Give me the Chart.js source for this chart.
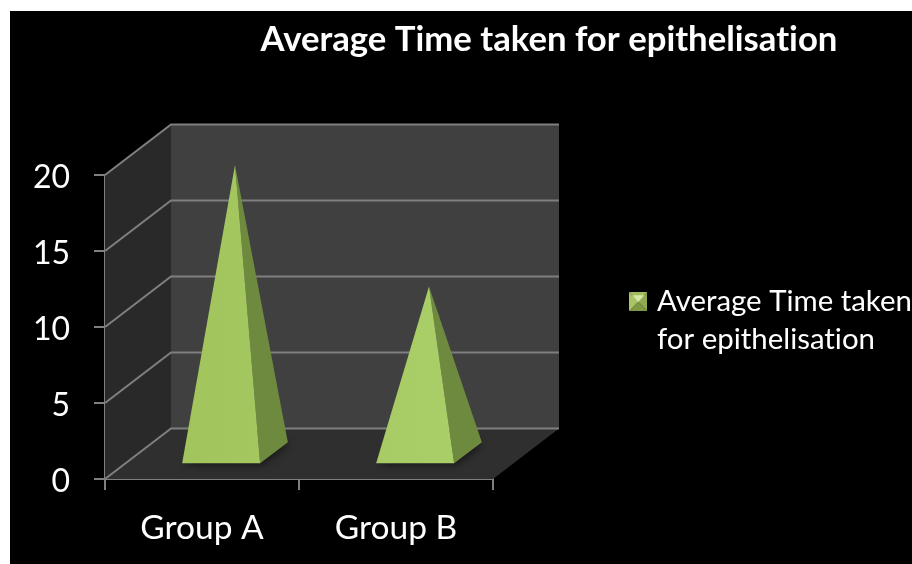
<!DOCTYPE html>
<html>
<head>
<meta charset="utf-8">
<style>
html, body { margin: 0; padding: 0; background: #fff; }
#wrap { width: 912px; height: 564px; }
</style>
<script src="https://cdn.jsdelivr.net/npm/chart.js@4"></script>
</head>
<body>
<div id="wrap"><canvas id="chart" width="912" height="564"></canvas></div>
<script>
const groups = ['Group A', 'Group B'];
const avgTime = [19, 11];
const seriesName = ['Average Time taken', 'for epithelisation'];
const chartTitle = 'Average Time taken for epithelisation';

const FONT = 'Lato, "Open Sans", sans-serif';
const depthX = 66, depthY = -50.5;
const lineGrey = '#7f7f7f';

// legend marker, small bevelled square
function makeMarker() {
    const c = document.createElement('canvas');
    c.width = 18; c.height = 19;
    const g = c.getContext('2d');
    const tri = (pts, col) => {
        g.fillStyle = col;
        g.beginPath();
        pts.forEach((p, i) => i ? g.lineTo(p[0], p[1]) : g.moveTo(p[0], p[1]));
        g.closePath();
        g.fill();
    };
    tri([[0, 0], [18, 0], [9, 9.5]], '#a2bf5f');
    tri([[0, 0], [9, 9.5], [0, 19]], '#a8c465');
    tri([[18, 0], [9, 9.5], [18, 19]], '#8faa50');
    tri([[0, 19], [18, 19], [9, 9.5]], '#7f9a45');
    tri([[3, 3], [15, 3], [9, 10]], '#d8e9a6');
    return c;
}

function poly(ctx, pts, fill) {
    ctx.beginPath();
    pts.forEach((p, i) => i ? ctx.lineTo(p[0], p[1]) : ctx.moveTo(p[0], p[1]));
    ctx.closePath();
    ctx.fillStyle = fill;
    ctx.fill();
}

const scene3d = {
    id: 'scene3d',
    beforeDraw(chart) {
        const ctx = chart.ctx;
        ctx.textRendering = 'optimizeSpeed'; // no ti ligature
        ctx.save();
        ctx.fillStyle = '#000';
        ctx.fillRect(10, 11, chart.width - 10, chart.height - 11);
        ctx.restore();
        // y labels sit a bit under their ticks
        chart.scales.y.getLabelItems().forEach(item => {
            if (!item.shifted) {
                item.textOffset += 2.5;
                item.shifted = true;
            }
        });
    },
    afterLayout(chart) {
        // title and legend sit outside the plot column
        const t = chart.titleBlock;
        t.left = 186; t.right = 912;
        const l = chart.legend;
        l.left = 624.3; l.right = 912; l.top = 277; l.bottom = 360;
        l.adjustHitBoxes();
    },
    beforeDatasetsDraw(chart) {
        const ctx = chart.ctx, x = chart.scales.x, y = chart.scales.y;
        const l = x.left, r = x.right, b = y.bottom, t = y.top;
        ctx.save();
        poly(ctx, [[l, t], [l + depthX, t + depthY], [l + depthX, b + depthY], [l, b]], '#292929');
        poly(ctx, [[l + depthX, t + depthY], [r + depthX, t + depthY], [r + depthX, b + depthY], [l + depthX, b + depthY]], '#404040');
        poly(ctx, [[l, b], [r, b], [r + depthX, b + depthY], [l + depthX, b + depthY]], '#2f2f2f');
        ctx.strokeStyle = lineGrey;
        ctx.lineWidth = 2;
        y.ticks.forEach(tk => {
            const py = y.getPixelForValue(tk.value);
            ctx.beginPath();
            ctx.moveTo(l, py);
            ctx.lineTo(l + depthX, py + depthY);
            ctx.lineTo(r + depthX, py + depthY);
            ctx.stroke();
        });
        ctx.restore();
    },
    afterDatasetsDraw(chart) {
        const ctx = chart.ctx;
        const grad = ctx.createLinearGradient(180, 0, 460, 0);
        grad.addColorStop(0, '#a1c45d');
        grad.addColorStop(1, '#abcf68');
        chart.getDatasetMeta(0).data.forEach(bar => {
            const hw = bar.width / 2;
            const fx = depthX * 0.29, fy = depthY * 0.29;
            const bx = depthX * 0.71, by = depthY * 0.71;
            const mx = depthX * 0.5, my = depthY * 0.5;
            const fl = [bar.x - hw + fx, bar.base + fy];
            const fr = [bar.x + hw + fx, bar.base + fy];
            const br = [bar.x + hw + bx, bar.base + by];
            const bl = [bar.x - hw + bx, bar.base + by];
            const apex = [bar.x + mx, bar.y + my];
            ctx.save();
            ctx.shadowColor = 'rgba(0,0,0,0.6)';
            ctx.shadowBlur = 8;
            ctx.shadowOffsetX = 2;
            ctx.shadowOffsetY = 1;
            poly(ctx, [fl, fr, br, bl], '#2a2a2a');
            ctx.restore();
            poly(ctx, [fr, br, apex], '#6e8a3e');
            poly(ctx, [fl, fr, apex], grad);
        });
    }
};

new Chart(document.getElementById('chart'), {
    type: 'bar',
    data: {
        labels: groups,
        datasets: [{
            label: seriesName,
            data: avgTime,
            backgroundColor: 'transparent',
            borderWidth: 0,
            barPercentage: 0.402,
            categoryPercentage: 1
        }]
    },
    options: {
        responsive: false,
        animation: false,
        layout: { padding: { left: 0, right: 419, top: 0, bottom: 0 } },
        plugins: {
            tooltip: { enabled: false },
            title: {
                display: true,
                text: chartTitle,
                color: '#fff',
                align: 'center',
                font: { family: FONT, size: 34.7, weight: 'bold', lineHeight: '42px' },
                padding: { top: 19, bottom: 114 }
            },
            legend: {
                position: 'chartArea',
                align: 'start',
                labels: {
                    color: '#fff',
                    font: { family: FONT, size: 29.4, lineHeight: '38px' },
                    usePointStyle: true,
                    boxWidth: 8,
                    padding: 10,
                    generateLabels: () => [{
                        text: seriesName,
                        pointStyle: makeMarker(),
                        fontColor: '#fff',
                        lineWidth: 0,
                        hidden: false,
                        datasetIndex: 0
                    }]
                }
            }
        },
        scales: {
            x: {
                grid: { drawOnChartArea: false, offset: true, color: lineGrey, lineWidth: 2, tickLength: 11 },
                border: { color: lineGrey, width: 2 },
                ticks: { color: '#fff', padding: 18, maxRotation: 0, font: { family: FONT, size: 33.5 } },
                afterFit(s) { s.height = 85; }
            },
            y: {
                min: 0,
                max: 20,
                grid: { drawOnChartArea: false, color: lineGrey, lineWidth: 2, tickLength: 11 },
                border: { color: lineGrey, width: 2 },
                ticks: { stepSize: 5, color: '#fff', padding: 24, font: { family: FONT, size: 32 } },
                afterFit(s) { s.width = 105; }
            }
        }
    },
    plugins: [scene3d]
});
</script>
</body>
</html>
